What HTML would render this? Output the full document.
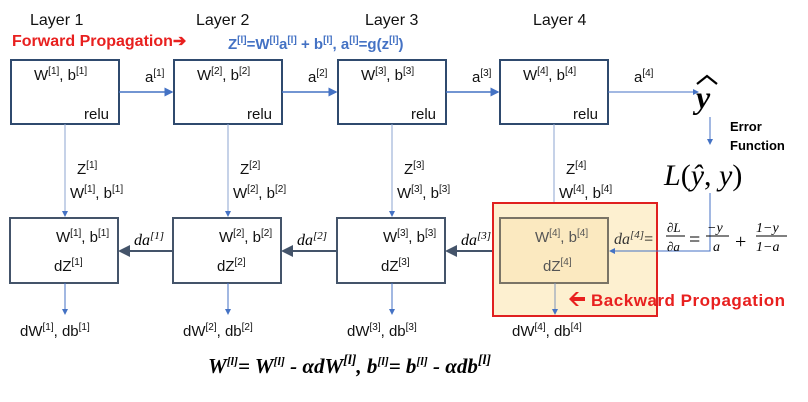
<!DOCTYPE html>
<html><head><meta charset="utf-8"><style>
body{margin:0;background:#fff}
svg{display:block;font-family:"Liberation Sans",sans-serif}
.t{font-size:15px;fill:#111}
.s{font-size:10px}
.m{font-family:"Liberation Serif",serif;font-style:italic}
</style></head><body>
<svg width="808" height="402" viewBox="0 0 808 402">
<defs>
<marker id="ab" markerWidth="6" markerHeight="6" refX="5" refY="3" orient="auto"><path d="M0,0L6,3L0,6z" fill="#4472c4"/></marker>
<marker id="ad" markerWidth="6" markerHeight="6" refX="5" refY="3" orient="auto"><path d="M0,0L6,3L0,6z" fill="#44546a"/></marker>
</defs>
<g>
<text x="30" y="25" class="t" style="font-size:16px">Layer 1</text>
<text x="196" y="25" class="t" style="font-size:16px">Layer 2</text>
<text x="365" y="25" class="t" style="font-size:16px">Layer 3</text>
<text x="533" y="25" class="t" style="font-size:16px">Layer 4</text>
</g>
<text x="12" y="46" fill="#e8201f" font-weight="bold" font-size="16">Forward Propagation➔</text>
<text x="228" y="49" fill="#4472c4" font-weight="bold" font-size="15">Z<tspan class="s" dy="-6">[l]</tspan><tspan dy="6">=W</tspan><tspan class="s" dy="-6">[l]</tspan><tspan dy="6">a</tspan><tspan class="s" dy="-6">[l]</tspan><tspan dy="6"> + b</tspan><tspan class="s" dy="-6">[l]</tspan><tspan dy="6">, a</tspan><tspan class="s" dy="-6">[l]</tspan><tspan dy="6">=g(z</tspan><tspan class="s" dy="-6">[l]</tspan><tspan dy="6">)</tspan></text>

<g id="fwd"></g>
<g id="bwd"></g>

<rect x="493" y="203" width="164" height="113" fill="#fdf0d0" stroke="#e02020" stroke-width="2"/>
<rect x="500" y="218" width="108" height="65" fill="#fbe9c0" stroke="#7a7466" stroke-width="2"/>
<text x="535" y="242" class="t" style="fill:#555">W<tspan class="s" dy="-6">[4]</tspan><tspan dy="6">, b</tspan><tspan class="s" dy="-6">[4]</tspan></text>
<text x="543" y="271" class="t" style="fill:#555">dZ<tspan class="s" dy="-6">[4]</tspan></text>
<line x1="555" y1="283" x2="555" y2="314" stroke="#7f95b8" marker-end="url(#ab)"/>
<text x="512" y="336" class="t">dW<tspan class="s" dy="-6">[4]</tspan><tspan dy="6">, db</tspan><tspan class="s" dy="-6">[4]</tspan></text>
<polygon points="569,299 576,292 579,292 574,297 585,297 585,301 574,301 579,306 576,306" fill="#e8201f"/>
<text x="591" y="306" fill="#e8201f" font-weight="bold" font-size="17" textLength="194">Backward Propagation</text>

<text x="696" y="108" font-family="Liberation Serif" font-style="italic" font-weight="bold" font-size="32">y</text>
<path d="M697,84 L707,76 L717,84" fill="none" stroke="#000" stroke-width="2.2"/>
<line x1="710" y1="117" x2="710" y2="144" stroke="#4472c4" marker-end="url(#ab)"/>
<text x="730" y="131" font-weight="bold" font-size="13">Error</text>
<text x="730" y="150" font-weight="bold" font-size="13">Function</text>
<text x="664" y="185" font-family="Liberation Serif" font-size="30"><tspan font-style="italic">L</tspan>(<tspan font-style="italic">ŷ</tspan>, <tspan font-style="italic">y</tspan>)</text>
<polyline points="710,193 710,251 610,251" fill="none" stroke="#4472c4" marker-end="url(#ab)"/>
<text x="614" y="244" font-family="Liberation Serif" font-size="16"><tspan font-style="italic" fill="#333">da<tspan font-size="11" dy="-6">[4]</tspan></tspan><tspan dy="6">=</tspan></text>
<text x="667" y="232" class="m" font-size="13">∂L</text><line x1="666" y1="236" x2="685" y2="236" stroke="#000"/><text x="667" y="251" class="m" font-size="13">∂a</text>
<text x="689" y="246" font-size="20" font-family="Liberation Serif">=</text>
<text x="707" y="232" class="m" font-size="14">−y</text><line x1="706" y1="236" x2="729" y2="236" stroke="#000"/><text x="713" y="251" class="m" font-size="14">a</text>
<text x="735" y="248" font-size="20" font-family="Liberation Serif">+</text>
<text x="756" y="232" class="m" font-size="14">1−y</text><line x1="756" y1="236" x2="787" y2="236" stroke="#000"/><text x="756" y="251" class="m" font-size="14">1−a</text>

<text x="208" y="373" font-family="Liberation Serif" font-style="italic" font-weight="bold" font-size="21">W<tspan font-size="12" dy="-8">[l]</tspan><tspan dy="8">= W</tspan><tspan font-size="12" dy="-8">[l]</tspan><tspan dy="8"> - αdW</tspan><tspan font-size="14" dy="-9">[l]</tspan><tspan dy="9">, b</tspan><tspan font-size="12" dy="-8">[l]</tspan><tspan dy="8">= b</tspan><tspan font-size="12" dy="-8">[l]</tspan><tspan dy="8"> - αdb</tspan><tspan font-size="14" dy="-9">[l]</tspan></text>
</svg>
<script>
const NS='http://www.w3.org/2000/svg';
const xs=[11,174,338,500];
const fwd=document.getElementById('fwd'),bwd=document.getElementById('bwd');
function el(p,tag,attrs,txt){const e=document.createElementNS(NS,tag);for(const k in attrs)e.setAttribute(k,attrs[k]);if(txt!==undefined)e.innerHTML=txt;p.appendChild(e);return e;}
xs.forEach((x,i)=>{
 const n=i+1,cx=x+54;
 const b=el(fwd,'rect',{x:x,y:60,width:108,height:64,fill:'#fff',stroke:'#2f4a6e','stroke-width':2});
 
 
 el(fwd,'text',{x:x+23,y:80,class:'t'},'W<tspan class="s" dy="-6">['+n+']</tspan><tspan dy="6">, b</tspan><tspan class="s" dy="-6">['+n+']</tspan>');
 el(fwd,'text',{x:x+73,y:119,class:'t'},'relu');
 const nx=i<3?xs[i+1]:700;
 el(fwd,'line',{x1:x+108,y1:92,x2:nx-2,y2:92,stroke:'#4472c4','stroke-width':i<3?1.5:1,'marker-end':'url(#ab)'});
 el(fwd,'text',{x:x+134,y:82,class:'t'},'a<tspan class="s" dy="-6">['+n+']</tspan>');
 el(fwd,'line',{x1:cx,y1:124,x2:cx,y2:216,stroke:'#8ea6d0','marker-end':'url(#ab)'});
 el(fwd,'text',{x:cx+12,y:174,class:'t'},'Z<tspan class="s" dy="-6">['+n+']</tspan>');
 el(fwd,'text',{x:cx+5,y:198,class:'t'},'W<tspan class="s" dy="-6">['+n+']</tspan><tspan dy="6">, b</tspan><tspan class="s" dy="-6">['+n+']</tspan>');
 if(i<3){
  const r=el(bwd,'rect',{x:x-1,y:218,width:108,height:65,fill:'#fff',stroke:'#44546a','stroke-width':2});
  
  
  el(bwd,'text',{x:x+45,y:242,class:'t'},'W<tspan class="s" dy="-6">['+n+']</tspan><tspan dy="6">, b</tspan><tspan class="s" dy="-6">['+n+']</tspan>');
  el(bwd,'text',{x:x+43,y:271,class:'t'},'dZ<tspan class="s" dy="-6">['+n+']</tspan>');
  el(bwd,'line',{x1:xs[i+1]-1,y1:251,x2:x+109,y2:251,stroke:'#44546a','stroke-width':2,'marker-end':'url(#ad)'});
  el(bwd,'text',{x:x+123,y:245,'font-family':'Liberation Serif','font-style':'italic','font-size':'16'},'da<tspan font-size="11" dy="-6">['+n+']</tspan>');
  el(bwd,'line',{x1:cx,y1:283,x2:cx,y2:314,stroke:'#4472c4','marker-end':'url(#ab)'});
  el(bwd,'text',{x:x+9,y:336,class:'t'},'dW<tspan class="s" dy="-6">['+n+']</tspan><tspan dy="6">, db</tspan><tspan class="s" dy="-6">['+n+']</tspan>');
 }
});
</script>
</body></html>
